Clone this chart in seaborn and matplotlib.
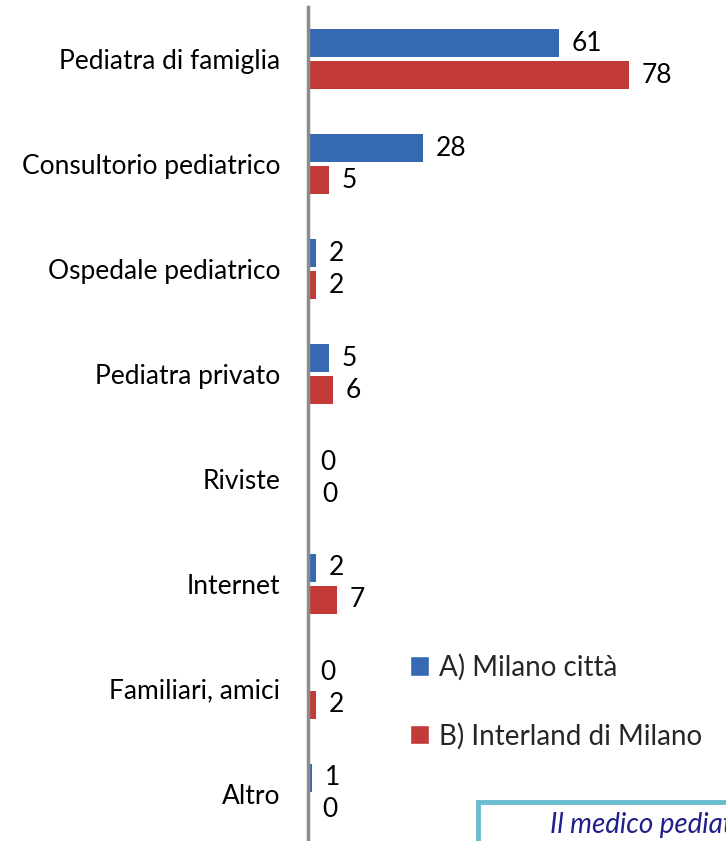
import matplotlib
matplotlib.use("Agg")
import matplotlib.pyplot as plt
from matplotlib.patches import Rectangle, Patch
import seaborn as sns
import pandas as pd

categories = ["Pediatra di famiglia", "Consultorio pediatrico", "Ospedale pediatrico",
              "Pediatra privato", "Riviste", "Internet", "Familiari, amici", "Altro"]
milano_citta = [61, 28, 2, 5, 0, 2, 0, 1]
interland = [78, 5, 2, 6, 0.3, 7, 2, 0.3]
series = ["A) Milano città", "B) Interland di Milano"]
colors = ["#356AB3", "#C23A38"]

df = pd.DataFrame({
    "Fonte": categories * 2,
    "Valore": milano_citta + interland,
    "Gruppo": [series[0]] * len(categories) + [series[1]] * len(categories),
})

sns.set_style("white")
plt.rcParams["font.family"] = ["Lato", "DejaVu Sans"]

fig = plt.figure(figsize=(7.26, 8.41), dpi=100)
ax = fig.add_axes([0.4245, -0.0060, 0.5755, 0.9977])

sns.barplot(data=df, y="Fonte", x="Valore", hue="Gruppo", orient="h",
            palette=colors, saturation=1, width=0.61, gap=0.125, ax=ax,
            legend=False, errorbar=None, linewidth=0)

for cont in ax.containers:
    ax.bar_label(cont, fmt="%.0f", padding=9, fontsize=19, color="black")

ax.set_xlim(0, 101.7)
ax.set_xlabel("")
ax.set_ylabel("")
ax.set_xticks([])
ax.tick_params(axis="y", length=0, pad=20, labelsize=19, labelcolor="black")
for side in ["top", "right", "bottom"]:
    ax.spines[side].set_visible(False)
ax.spines["left"].set_color("#8C8C8C")
ax.spines["left"].set_linewidth(2.5)

# legend sits inside the plot area, no frame
handles = [Patch(facecolor=c, label=s) for c, s in zip(colors, series)]
fig.legend(handles=handles, loc="upper left", bbox_to_anchor=(0.530, 0.252),
           frameon=False, fontsize=20, handlelength=0.7, handleheight=0.7,
           handletextpad=0.35, labelspacing=1.5)

# note box cut by the bottom edge, as in the original slide
fig.patches.append(Rectangle((0.659, -0.01), 0.4, 0.056, transform=fig.transFigure,
                             facecolor="white", edgecolor="#6BBCD0", linewidth=3.5))
fig.text(0.757, 0.034, "Il medico pediatra", fontsize=20, style="italic",
         color="#1F1F8C", va="top")

fig.savefig("out.png", dpi=100)
